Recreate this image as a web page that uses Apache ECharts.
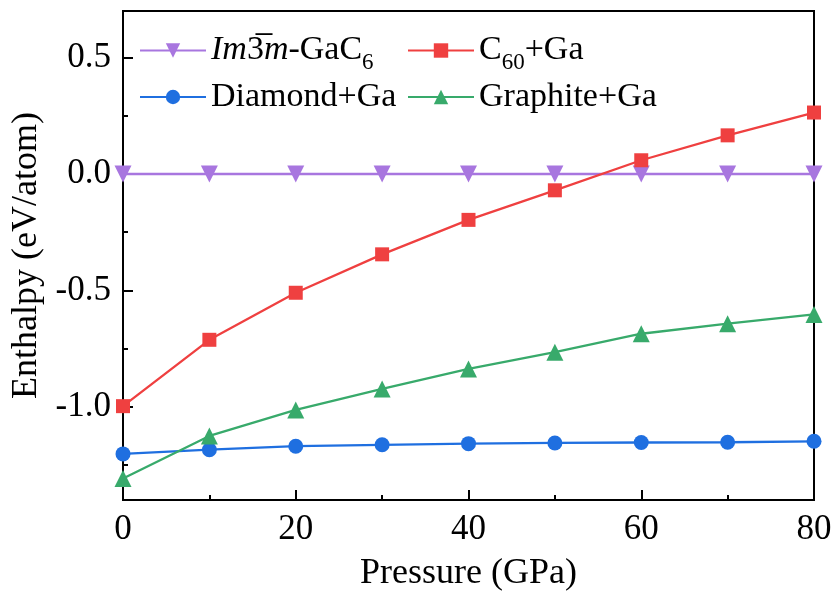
<!DOCTYPE html>
<html>
<head>
<meta charset="utf-8">
<script src="https://cdn.jsdelivr.net/npm/echarts@6/dist/echarts.min.js"></script>
<style>
  html, body { margin: 0; padding: 0; background: #fff; }
  #chart { width: 837px; height: 597px; }
</style>
</head>
<body>
<div id="chart"></div>
<script>
// Pressure points (GPa)
const pressure = [0, 10, 20, 30, 40, 50, 60, 70, 80];

// Relative enthalpy (eV/atom) of each phase with respect to Im-3m GaC6
const gac6 = [0, 0, 0, 0, 0, 0, 0, 0, 0];
const c60Ga = [-0.997, -0.712, -0.510, -0.345, -0.197, -0.070, 0.059, 0.166, 0.264];
const diamondGa = [-1.202, -1.184, -1.169, -1.163, -1.158, -1.155, -1.153, -1.152, -1.148];
const graphiteGa = [-1.308, -1.125, -1.013, -0.923, -0.837, -0.765, -0.686, -0.643, -0.603];

// Tick positions on the enthalpy axis
const yMajorTicks = [-1.0, -0.5, 0.0, 0.5];
const yMinorTicks = [-1.25, -0.75, -0.25, 0.25];

const colors = ['#a876df', '#ef4040', '#1f6fe0', '#38aa6b'];

const FONT = '"Liberation Serif", "Times New Roman", serif';

function pairs(ys) { return pressure.map((x, i) => [x, ys[i]]); }

// Rich text styles for legend labels; the top padding pushes subscripts below the baseline
const legendRich = {
  n: { fontFamily: FONT, fontSize: 34, lineHeight: 34, color: '#000' },
  it: { fontFamily: FONT, fontSize: 34, lineHeight: 34, fontStyle: 'italic', color: '#000' },
  sub: { fontFamily: FONT, fontSize: 23, lineHeight: 23, padding: [24, 0, 0, 0], color: '#000' }
};

function legendLabel(name) {
  if (name === 'Im3m-GaC6') return '{it|Im}{n|3\u0305}{it|m}{n|-GaC}{sub|6}';
  if (name === 'C60+Ga') return '{n|C}{sub|60}{n|+Ga}';
  return '{n|' + name + '}';
}

function legendAt(name, left, top) {
  return {
    data: [name],
    left: left,
    top: top,
    padding: 0,
    itemWidth: 66,
    itemHeight: 18,
    itemGap: 0,
    selectedMode: false,
    formatter: legendLabel,
    textStyle: { rich: legendRich, fontFamily: FONT, fontSize: 34, color: '#000' }
  };
}

const axisLineStyle = { color: '#000', width: 2 };

const option = {
  backgroundColor: '#fff',
  animation: false,
  color: colors,
  grid: {
    left: 123, right: 23, top: 11, bottom: 97,
    show: true, borderColor: '#000', borderWidth: 2, backgroundColor: 'transparent'
  },
  legend: [
    legendAt('Im3m-GaC6', 139, 27),
    legendAt('Diamond+Ga', 139, 80),
    legendAt('C60+Ga', 407, 27),
    legendAt('Graphite+Ga', 407, 80)
  ],
  xAxis: {
    type: 'value',
    min: 0, max: 80, interval: 20,
    name: 'Pressure (GPa)',
    nameLocation: 'middle',
    nameGap: 56,
    nameTextStyle: { fontFamily: FONT, fontSize: 36, color: '#000' },
    axisLine: { show: true, onZero: false, lineStyle: axisLineStyle },
    axisTick: { show: true, inside: true, length: 10, lineStyle: axisLineStyle },
    minorTick: { show: true, splitNumber: 2, length: 5, lineStyle: { color: '#000', width: 2 } },
    splitLine: { show: false },
    axisLabel: { fontFamily: FONT, fontSize: 35, color: '#000', margin: 12 }
  },
  yAxis: [
    {
      type: 'value',
      min: -1.4, max: 0.7,
      position: 'left',
      name: 'Enthalpy (eV/atom)',
      nameLocation: 'middle',
      nameGap: 70,
      nameTextStyle: { fontFamily: FONT, fontSize: 36, color: '#000' },
      axisLine: { show: true, onZero: false, lineStyle: axisLineStyle },
      axisTick: { show: true, inside: true, length: 10, customValues: yMajorTicks, lineStyle: axisLineStyle },
      splitLine: { show: false },
      axisLabel: {
        fontFamily: FONT, fontSize: 35, color: '#000', margin: 12,
        customValues: yMajorTicks,
        formatter: v => v.toFixed(1)
      }
    },
    {
      type: 'value',
      min: -1.4, max: 0.7,
      position: 'left',
      axisLine: { show: false },
      axisTick: { show: true, inside: true, length: 5, customValues: yMinorTicks, lineStyle: axisLineStyle },
      axisLabel: { show: false },
      splitLine: { show: false }
    }
  ],
  series: [
    { name: 'Im3m-GaC6', data: pairs(gac6), symbol: 'triangle', symbolRotate: 180, symbolSize: 17 },
    { name: 'C60+Ga', data: pairs(c60Ga), symbol: 'rect', symbolSize: 14 },
    { name: 'Diamond+Ga', data: pairs(diamondGa), symbol: 'circle', symbolSize: 15 },
    { name: 'Graphite+Ga', data: pairs(graphiteGa), symbol: 'triangle', symbolSize: 17 }
  ].map((s, i) => Object.assign({
    type: 'line',
    yAxisIndex: 0,
    clip: true,
    lineStyle: { width: 2.3, color: colors[i] },
    itemStyle: { color: colors[i] },
    emphasis: { disabled: true }
  }, s))
};

const chart = echarts.init(document.getElementById('chart'), null, { renderer: 'canvas' });
chart.setOption(option);
</script>
</body>
</html>
